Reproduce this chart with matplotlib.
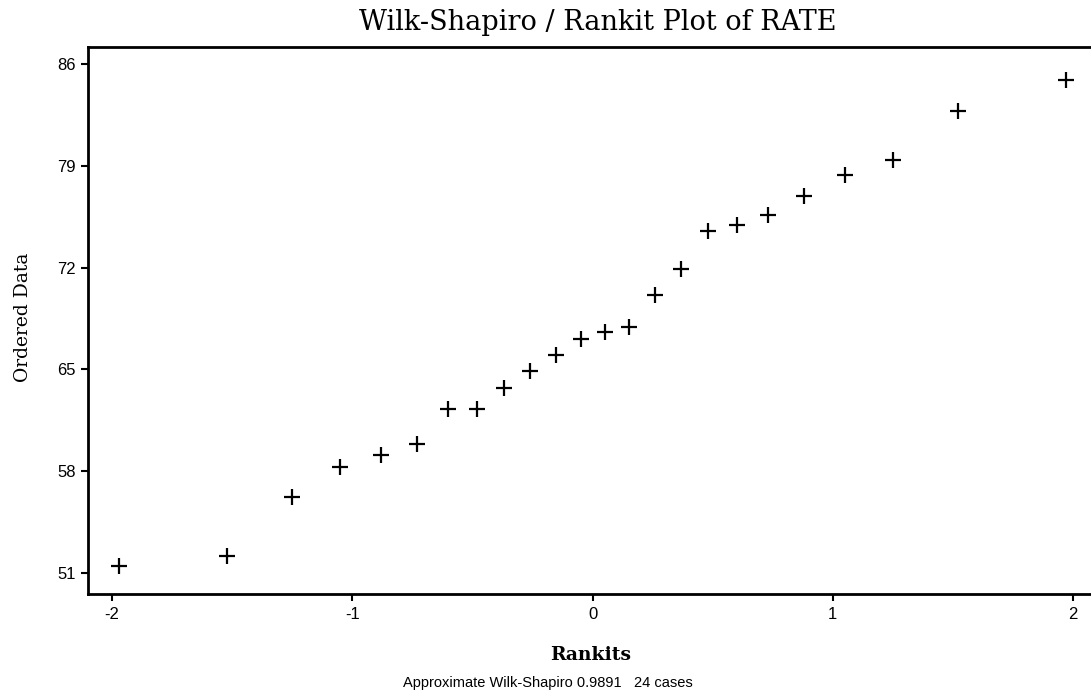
import numpy as np
import matplotlib
matplotlib.use("Agg")
import matplotlib.pyplot as plt

# rankits (expected normal order statistics, n=24) and ordered RATE values
rankits = [-1.97, -1.52, -1.25, -1.05, -0.88, -0.73, -0.60, -0.48, -0.37, -0.26, -0.15, -0.05,
           0.05, 0.15, 0.26, 0.37, 0.48, 0.60, 0.73, 0.88, 1.05, 1.25, 1.52, 1.97]
rate = [51.5, 52.2, 56.2, 58.3, 59.1, 59.9, 62.3, 62.3, 63.7, 64.9, 66.0, 67.1,
        67.6, 67.9, 70.1, 71.9, 74.5, 74.9, 75.6, 76.9, 78.4, 79.4, 82.8, 84.9]
xticks = [-2, -1, 0, 1, 2]
yticks = [51, 58, 65, 72, 79, 86]

fig = plt.figure(figsize=(10.91, 7.0), dpi=100)
ax = fig.add_axes([0.0807, 0.1514, 0.9193, 0.7815])

ax.plot(rankits, rate, '+', color='black', markersize=12, markeredgewidth=1.6)

ax.set_xlim(-2.1, 2.075)
ax.set_ylim(49.56, 87.17)
ax.set_xticks(xticks)
ax.set_yticks(yticks)
ax.set_xticklabels(['-2', '-1', '0', '1', '2'])
for lab in ax.get_xticklabels() + ax.get_yticklabels():
    lab.set_fontfamily('Liberation Sans')
    lab.set_fontsize(12)
ax.tick_params(direction='out', length=5, width=1.5, color='black', pad=4)

ax.spines['right'].set_visible(False)
for s in ['left', 'top', 'bottom']:
    ax.spines[s].set_linewidth(2)

fig.text(0.548, 0.957, 'Wilk-Shapiro / Rankit Plot of RATE', ha='center', va='baseline',
         family='DejaVu Serif', fontsize=19.5)
fig.text(0.541, 0.057, 'Rankits', ha='center', va='baseline',
         family='DejaVu Serif', fontsize=13.5, fontweight='bold')
fig.text(0.021, 0.546, 'Ordered Data', ha='center', va='center', rotation=90,
         family='DejaVu Serif', fontsize=13.5)
fig.text(0.502, 0.018, 'Approximate Wilk-Shapiro 0.9891   24 cases', ha='center', va='baseline',
         family='Liberation Sans', fontsize=10.5)

fig.savefig('out.png', dpi=100)
